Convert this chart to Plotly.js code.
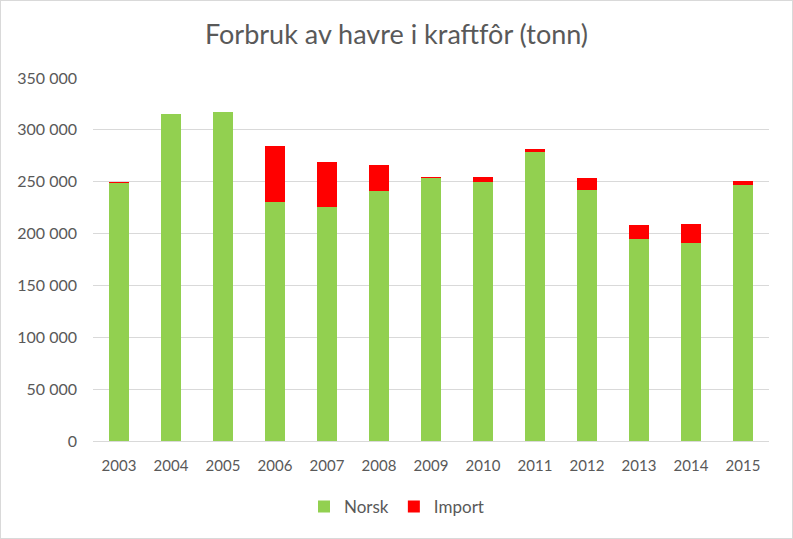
<!DOCTYPE html>
<html>
<head>
<meta charset="utf-8">
<script src="https://cdn.plot.ly/plotly-3.0.1.min.js"></script>
<style>
html,body{margin:0;padding:0;background:#fff;}
#wrap{width:793px;height:539px;box-sizing:border-box;border:1px solid #d9d9d9;overflow:hidden;}
#chart{width:791px;height:537px;}
</style>
</head>
<body>
<div id="wrap"><div id="chart"></div></div>
<script>
const years = ["2003","2004","2005","2006","2007","2008","2009","2010","2011","2012","2013","2014","2015"];
const norsk = [248700, 315000, 317000, 230000, 225400, 241000, 253400, 249800, 279100, 242100, 194600, 191000, 246600];
const importVals = [1100, 0, 0, 54000, 43400, 25000, 1000, 4500, 2200, 11300, 13500, 18300, 3900];
const yTickVals = [0, 50000, 100000, 150000, 200000, 250000, 300000, 350000];
const yTickText = ["0", "50 000", "100 000", "150 000", "200 000", "250 000", "300 000", "350 000"];

const fontFam = "Lato, 'Open Sans', sans-serif";
const textColor = "#595959";

const traces = [
  {type: "bar", name: "Norsk", x: years, y: norsk, marker: {color: "#92D050"}, hoverinfo: "skip"},
  {type: "bar", name: "Import", x: years, y: importVals, marker: {color: "#FF0000"}, hoverinfo: "skip"}
];

const layout = {
  width: 791, height: 537,
  barmode: "stack",
  bargap: 0.615,
  paper_bgcolor: "#fff", plot_bgcolor: "#fff",
  margin: {l: 92, r: 23, t: 77, b: 97},
  font: {family: fontFam, color: textColor, size: 15},
  title: {text: "Forbruk av havre i kraftfôr (tonn)", font: {family: fontFam, size: 27, color: textColor}, x: 0.5, xanchor: "center", y: 0.938, yanchor: "middle"},
  xaxis: {type: "category", tickfont: {size: 15, color: textColor}, showgrid: false, zeroline: false, showline: false, ticks: "", ticklabelstandoff: 14},
  yaxis: {range: [0, 350000], tickvals: yTickVals, ticktext: yTickText, tickfont: {size: 16, color: textColor}, showgrid: true, gridcolor: "#d9d9d9", gridwidth: 1, zeroline: true, zerolinecolor: "#d9d9d9", zerolinewidth: 1, showline: false, ticks: "", ticklabelstandoff: 15},
  legend: {orientation: "h", xref: "container", yref: "container", x: 0.5, xanchor: "center", y: 0.058, yanchor: "middle", font: {size: 17, color: textColor}, itemwidth: 30, traceorder: "normal"},
  showlegend: true
};

Plotly.newPlot("chart", traces, layout, {displayModeBar: false, staticPlot: true});
</script>
</body>
</html>
